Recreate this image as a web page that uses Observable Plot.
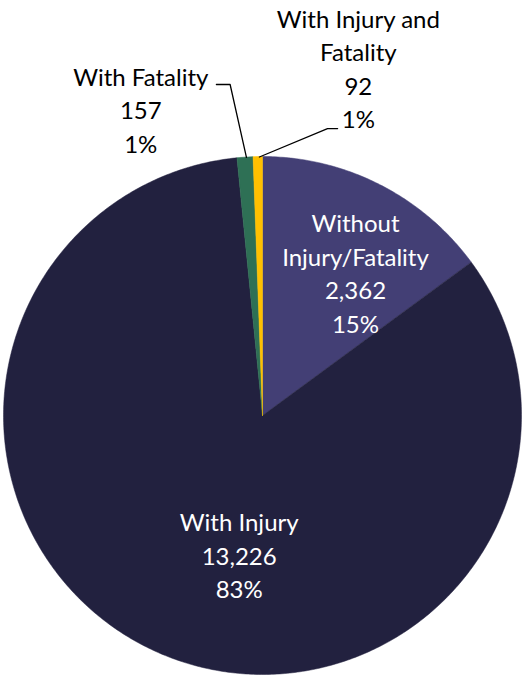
<!DOCTYPE html>
<html><head><meta charset="utf-8">
<script src="https://cdn.jsdelivr.net/npm/d3@7"></script>
<script src="https://cdn.jsdelivr.net/npm/@observablehq/plot@0.6"></script>
<style>body{margin:0;background:#fff;} svg{display:block;}</style>
</head><body><div id="chart"></div>
<script>
const categories = ["Without Injury/Fatality", "With Injury", "With Fatality", "With Injury and Fatality"];
const values = [2362, 13226, 157, 92];
const percents = ["15%", "83%", "1%", "1%"];
const labelNames = ["Without\nInjury/Fatality", "With Injury", "With Fatality", "With Injury and\nFatality"];
const colors = ["#433F75", "#22213F", "#2E7055", "#FFC000"];
const textColors = ["#fff", "#fff", "#000", "#000"];
// label anchor positions (unit-circle coordinates)
const labelX = [0.359, -0.09, -0.47, 0.37];
const labelY = [0.555, -0.535, 1.185, 1.345];
// leader lines for outside labels
const leaders = [
  {k: 2, pts: [[-0.178, 1.278], [-0.125, 1.278], [-0.062, 0.997]]},
  {k: 3, pts: [[-0.012, 0.998], [0.251, 1.108], [0.290, 1.108]]}
];

const total = d3.sum(values);
const fmt = d3.format(",");
const slices = [];
let a0 = 0;
values.forEach((v, i) => {
  const a1 = a0 + v / total * 2 * Math.PI;
  const n = Math.max(2, Math.ceil((a1 - a0) / 0.01));
  slices.push({k: i, x: 0, y: 0});
  for (let j = 0; j <= n; j++) {
    const a = a0 + (a1 - a0) * j / n;
    slices.push({k: i, x: Math.sin(a), y: Math.cos(a)});
  }
  slices.push({k: i, x: 0, y: 0});
  a0 = a1;
});

const labels = categories.map((c, i) => ({
  k: i, x: labelX[i], y: labelY[i],
  text: labelNames[i] + "\n" + fmt(values[i]) + "\n" + percents[i]
}));
const leaderPts = leaders.flatMap(l => l.pts.map(p => ({k: l.k, x: p[0], y: p[1]})));

const chart = Plot.plot({
  width: 522, height: 677,
  marginLeft: 3, marginRight: 1, marginTop: 156, marginBottom: 3,
  x: {domain: [-1, 1], axis: null},
  y: {domain: [-1, 1], axis: null},
  style: {background: "#fff"},
  marks: [
    Plot.line(slices, {x: "x", y: "y", z: "k", fill: d => colors[d.k], stroke: d => colors[d.k], strokeWidth: 0.5, curve: "linear-closed"}),
    Plot.line(leaderPts, {x: "x", y: "y", z: "k", stroke: "#000", strokeWidth: 1.3}),
    Plot.text(labels, {x: "x", y: "y", text: "text", fill: d => textColors[d.k], fontSize: 24, lineHeight: 1.4, fontFamily: "Lato", textAnchor: "middle"})
  ]
});
document.getElementById("chart").append(chart);
</script></body></html>
